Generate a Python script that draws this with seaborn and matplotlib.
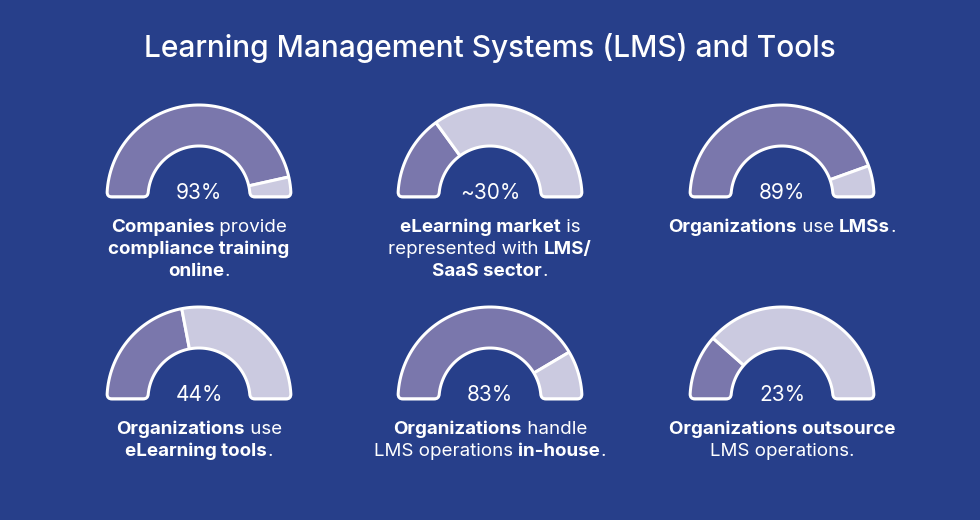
import re
import numpy as np
import matplotlib
matplotlib.use("Agg")
import matplotlib.pyplot as plt
import seaborn as sns
from matplotlib.patches import Wedge, PathPatch
from matplotlib.path import Path

# ---------------- data ----------------
title = "Learning Management Systems (LMS) and Tools"
values = [93, 30, 89, 44, 83, 23]
value_labels = ["93%", "~30%", "89%", "44%", "83%", "23%"]
captions = [
    ["**Companies** provide", "**compliance training**", "**online**."],
    ["**eLearning market** is", "represented with **LMS/**", "**SaaS sector**."],
    ["**Organizations** use **LMSs**."],
    ["**Organizations** use", "**eLearning tools**."],
    ["**Organizations** handle", "LMS operations **in-house**."],
    ["**Organizations outsource**", "LMS operations."],
]

# ---------------- style ----------------
BG = "#273F8A"
DARK = "#7A77AC"
LIGHT = "#CBCAE0"
WHITE = "#FFFFFF"
FONT = "Inter"

sns.set_theme(style="white")
plt.rcParams["font.family"] = [FONT, "DejaVu Sans"]

W, H = 980, 520
fig = plt.figure(figsize=(W / 100, H / 100), dpi=100, facecolor=BG)
ax = fig.add_axes([0, 0, 1, 1])
ax.set_facecolor(BG)
ax.set_xlim(0, W)
ax.set_ylim(H, 0)
ax.axis("off")

centers_x = [199, 490, 782]
centers_y = [197, 399]
R_OUT = 92.0
R_IN = 51.0
RC = 5.0
LW = 3 * 0.72


def gauge_path(cx, cy, R, ri, rc):
    verts, codes = [], []
    do = np.degrees(np.arcsin(rc / R))
    di = np.degrees(np.arcsin(rc / ri))
    th = np.radians(np.linspace(180 - do, do, 80))
    pts = [(cx + R * np.cos(t), cy - R * np.sin(t)) for t in th]
    verts.append(pts[0]); codes.append(Path.MOVETO)
    for p in pts[1:]:
        verts.append(p); codes.append(Path.LINETO)
    verts += [(cx + R, cy), (cx + R - rc, cy)]; codes += [Path.CURVE3, Path.CURVE3]
    verts.append((cx + ri + rc, cy)); codes.append(Path.LINETO)
    ti = np.radians(np.linspace(di, 180 - di, 60))
    ipts = [(cx + ri * np.cos(t), cy - ri * np.sin(t)) for t in ti]
    verts += [(cx + ri, cy), ipts[0]]; codes += [Path.CURVE3, Path.CURVE3]
    for p in ipts[1:]:
        verts.append(p); codes.append(Path.LINETO)
    verts += [(cx - ri, cy), (cx - ri - rc, cy)]; codes += [Path.CURVE3, Path.CURVE3]
    verts.append((cx - R + rc, cy)); codes.append(Path.LINETO)
    verts += [(cx - R, cy), pts[0]]; codes += [Path.CURVE3, Path.CURVE3]
    verts.append(pts[0]); codes.append(Path.CLOSEPOLY)
    return Path(verts, codes)


fig.canvas.draw()
renderer = fig.canvas.get_renderer()


def mixed_line(xc, y, line, size, color=WHITE):
    parts = [p for p in re.split(r"(\*\*[^*]+\*\*)", line) if p]
    texts = []
    for p in parts:
        bold = p.startswith("**")
        s = p.strip("*") if bold else p
        t = ax.text(0, y, s, fontsize=size, color=color, va="center", ha="left",
                    fontweight="bold" if bold else "normal")
        texts.append(t)
    widths = [t.get_window_extent(renderer).width for t in texts]
    total = sum(widths)
    x = xc - total / 2
    for t, w in zip(texts, widths):
        t.set_x(x)
        x += w


ax.text(W / 2, 48, title, ha="center", va="center", fontsize=21.5, color=WHITE,
        fontweight="medium")

for i, (v, lab, cap) in enumerate(zip(values, value_labels, captions)):
    cx = centers_x[i % 3]
    cy = centers_y[i // 3]
    gp = gauge_path(cx, cy, R_OUT, R_IN, RC)
    clip = PathPatch(gp, transform=ax.transData, facecolor="none", edgecolor="none")
    ax.add_patch(clip)
    split = -180 + 180 * v / 100
    for t1, t2, col in [(-180, split, DARK), (split, 0, LIGHT)]:
        wd = Wedge((cx, cy), R_OUT + 4, t1, t2, width=R_OUT - R_IN + 8,
                   facecolor=col, edgecolor=WHITE, linewidth=LW)
        ax.add_patch(wd)
        wd.set_clip_path(clip)
    ax.add_patch(PathPatch(gp, facecolor="none", edgecolor=WHITE, linewidth=LW,
                           joinstyle="round"))
    ax.text(cx, cy - 4, lab, ha="center", va="center", fontsize=15, color=WHITE,
            fontweight="normal")
    for j, line in enumerate(cap):
        mixed_line(cx, cy + 30 + 22 * j, line, 13.5)

fig.savefig("out.png", dpi=100, facecolor=BG)
